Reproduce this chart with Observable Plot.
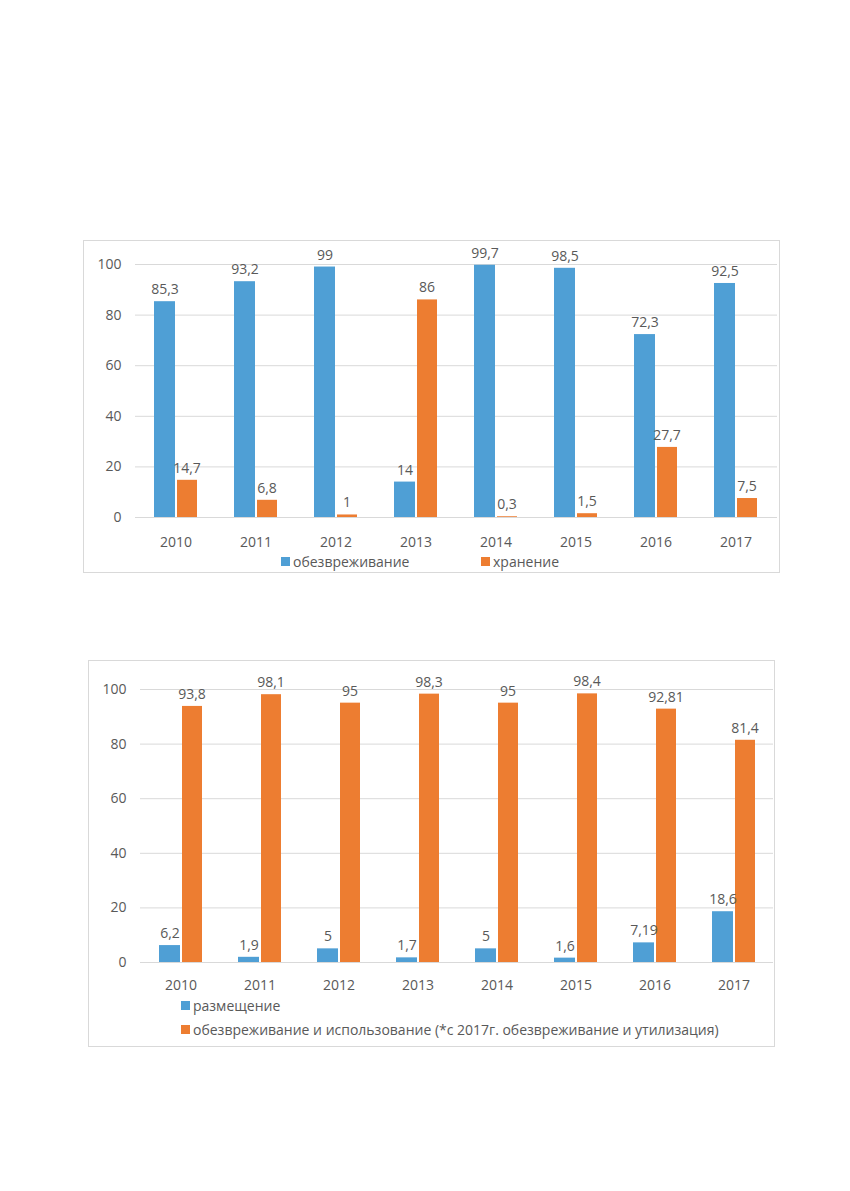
<!DOCTYPE html>
<html><head><meta charset="utf-8">
<script src="https://cdn.jsdelivr.net/npm/d3@7"></script>
<script src="https://cdn.jsdelivr.net/npm/@observablehq/plot@0.6"></script>
<style>
body{margin:0;background:#fff;font-family:"Open Sans",sans-serif;}
#page{position:relative;width:850px;height:1191px;}
.frame{position:absolute;border:1px solid #d9d9d9;box-sizing:border-box;}
.leg{position:absolute;font-size:14px;color:#595959;white-space:nowrap;display:flex;align-items:center;}
.sw{display:inline-block;width:9px;height:9px;margin-right:3px;}
</style></head><body><div id="page"></div>
<script>
const years = ["2010","2011","2012","2013","2014","2015","2016","2017"];
const c1Names = ["обезвреживание","хранение"];
const c1A = [85.3,93.2,99,14,99.7,98.5,72.3,92.5];
const c1B = [14.7,6.8,1,86,0.3,1.5,27.7,7.5];
const c2Names = ["размещение","обезвреживание и использование (*с 2017г. обезвреживание и утилизация)"];
const c2A = [6.2,1.9,5,1.7,5,1.6,7.19,18.6];
const c2B = [93.8,98.1,95,98.3,95,98.4,92.81,81.4];
const blue = "#4f9fd5", orange = "#ed7d31", gray = "#595959";
const fmt = v => String(v).replace(".", ",");
const page = document.getElementById("page");

function chart(cfg){
  const f = document.createElement("div");
  f.className = "frame";
  Object.assign(f.style,{left:cfg.left+"px",top:cfg.top+"px",width:cfg.width+"px",height:cfg.height+"px"});
  page.appendChild(f);
  const A = years.map((y,i)=>({year:y,value:cfg.a[i]}));
  const B = years.map((y,i)=>({year:y,value:cfg.b[i]}));
  const svg = Plot.plot({
    width:cfg.width, height:cfg.height,
    marginLeft:cfg.ml, marginRight:cfg.mr, marginTop:cfg.mt, marginBottom:cfg.mb,
    style:{fontFamily:"Open Sans, sans-serif", fontSize:"14px", color:gray, background:"transparent"},
    x:{domain:years, paddingInner:0.46, paddingOuter:0.23, label:null, tickSize:0, tickPadding:cfg.tp},
    y:{domain:[0,100], ticks:[0,20,40,60,80,100], label:null, tickSize:0, tickPadding:14},
    marks:[
      Plot.gridY([0,20,40,60,80,100],{stroke:"#d9d9d9",strokeOpacity:1}),
      Plot.barY(A,{x:"year",y:"value",fill:blue,insetRight:22}),
      Plot.barY(B,{x:"year",y:"value",fill:orange,insetLeft:23}),
      Plot.text(A,{x:"year",y:"value",text:d=>fmt(d.value),dx:-11,dy:-12,fill:gray,fontSize:14}),
      Plot.text(B,{x:"year",y:"value",text:d=>fmt(d.value),dx:11,dy:-12,fill:gray,fontSize:14}),
      Plot.axisX({tickSize:0,tickPadding:cfg.tp,fontSize:14,fill:gray}),
      Plot.axisY([0,20,40,60,80,100],{tickSize:0,tickPadding:14,fontSize:14,fill:gray})
    ]
  });
  Object.assign(svg.style,{position:"absolute",left:cfg.left+"px",top:cfg.top+"px"});
  page.appendChild(svg);
  cfg.legend.forEach(l=>{
    const d = document.createElement("div");
    d.className="leg";
    Object.assign(d.style,{left:l.x+"px",top:l.y+"px"});
    d.innerHTML = `<span class="sw" style="background:${l.c}"></span>${l.t}`;
    page.appendChild(d);
  });
}
chart({left:83,top:240,width:697,height:333,ml:52,mr:3,mt:24,mb:56,tp:20,a:c1A,b:c1B,
  legend:[{x:281,y:552,c:blue,t:c1Names[0]},{x:481,y:552,c:orange,t:c1Names[1]}]});
chart({left:88,top:660,width:687,height:387,ml:52,mr:2,mt:29,mb:85,tp:18,a:c2A,b:c2B,
  legend:[{x:181,y:996,c:blue,t:c2Names[0]},{x:181,y:1020,c:orange,t:c2Names[1]}]});
</script></body></html>
